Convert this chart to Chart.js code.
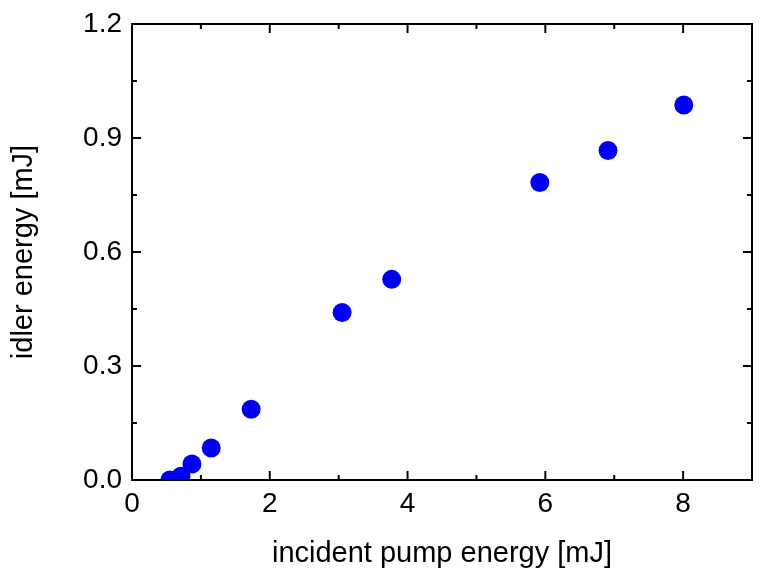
<html>
<head>
  <script src="https://cdn.jsdelivr.net/npm/chart.js"></script>
  <style>
    body { margin: 0; background: #fff; }
    #wrap { width: 762px; height: 577px; }
  </style>
</head>
<body>
  <div id="wrap"><canvas id="myChart"></canvas></div>
  <script>
    // pump energy [mJ] vs idler energy [mJ]
    let pumpEnergy = [0.55, 0.71, 0.87, 1.15, 1.73, 3.05, 3.77, 5.92, 6.91, 8.01];
    let idlerEnergy = [0.0, 0.01, 0.042, 0.084, 0.186, 0.441, 0.528, 0.783, 0.867, 0.987];
    let xTicks = [0, 2, 4, 6, 8];
    let xMinorTicks = [1, 3, 5, 7, 9];
    let yTicks = [0, 0.3, 0.6, 0.9, 1.2];
    let yMinorTicks = [0.15, 0.45, 0.75, 1.05];

    let font = "'Liberation Sans', Arial, sans-serif";

    // frame + inward ticks on all four sides
    let framePlugin = {
      id: 'frame',
      afterDraw: function (chart) {
        let ctx = chart.ctx;
        let a = chart.chartArea;
        let xs = chart.scales.x, ys = chart.scales.y;
        ctx.save();
        ctx.strokeStyle = '#000';
        ctx.lineWidth = 2;
        ctx.strokeRect(a.left, a.top, a.right - a.left, a.bottom - a.top);
        let tick = function (v, len, horiz) {
          ctx.beginPath();
          if (horiz) {
            let p = xs.getPixelForValue(v);
            ctx.moveTo(p, a.bottom); ctx.lineTo(p, a.bottom - len);
            ctx.moveTo(p, a.top); ctx.lineTo(p, a.top + len);
          } else {
            let p = ys.getPixelForValue(v);
            ctx.moveTo(a.left, p); ctx.lineTo(a.left + len, p);
            ctx.moveTo(a.right, p); ctx.lineTo(a.right - len, p);
          }
          ctx.stroke();
        };
        xTicks.forEach(v => tick(v, 9, true));
        xMinorTicks.forEach(v => tick(v, 5, true));
        yTicks.forEach(v => tick(v, 9, false));
        yMinorTicks.forEach(v => tick(v, 5, false));
        ctx.restore();
      }
    };

    new Chart(document.getElementById('myChart'), {
      type: 'scatter',
      data: {
        datasets: [{
          data: pumpEnergy.map((x, i) => ({ x: x, y: idlerEnergy[i] })),
          backgroundColor: '#0000f0',
          borderWidth: 0,
          pointRadius: 9.5,
          pointHoverRadius: 9.5
        }]
      },
      options: {
        responsive: true,
        maintainAspectRatio: false,
        animation: false,
        layout: { padding: { top: 23, right: 10, left: 0, bottom: 0 } },
        plugins: { legend: { display: false }, tooltip: { enabled: false } },
        scales: {
          x: {
            type: 'linear',
            min: 0, max: 9,
            grid: { display: false, drawTicks: false },
            border: { display: false },
            afterBuildTicks: s => { s.ticks = xTicks.map(v => ({ value: v })); },
            afterFit: s => { s.height = 97; },
            ticks: { color: '#000', padding: 7, font: { family: font, size: 28 }, maxRotation: 0 },
            title: {
              display: true, text: 'incident pump energy [mJ]', color: '#000',
              font: { family: font, size: 29 }, padding: { top: 6, bottom: 6 }
            }
          },
          y: {
            type: 'linear',
            min: 0, max: 1.2,
            grid: { display: false, drawTicks: false },
            border: { display: false },
            afterBuildTicks: s => { s.ticks = yTicks.map(v => ({ value: v })); },
            afterFit: s => { s.width = 132; },
            ticks: { color: '#000', padding: 10, font: { family: font, size: 28, lineHeight: 1 },
                     callback: v => v.toFixed(1) },
            title: {
              display: true, text: 'idler energy [mJ]', color: '#000',
              font: { family: font, size: 29 }, padding: { top: 7, bottom: 7 }
            }
          }
        }
      },
      plugins: [framePlugin]
    });
  </script>
</body>
</html>
